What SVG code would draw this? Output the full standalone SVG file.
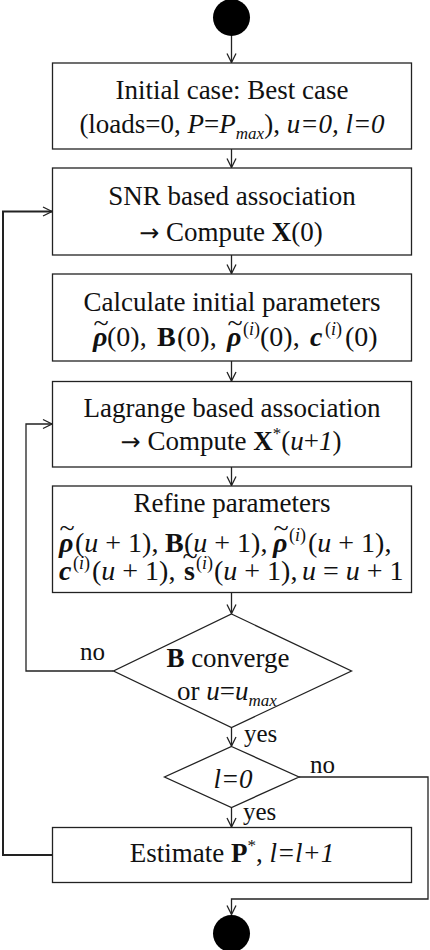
<svg xmlns="http://www.w3.org/2000/svg" width="430" height="950" viewBox="0 0 430 950">
<style>
.box{fill:#fff;stroke:#222;stroke-width:1.3}
.t{font-family:"Liberation Serif","Times New Roman",serif;font-size:27px;fill:#111;text-anchor:middle}
.m{font-family:"Liberation Serif","Times New Roman",serif;font-size:28px;fill:#111}
.lbl{font-family:"Liberation Serif","Times New Roman",serif;font-size:25px;fill:#111}
.ar{font-family:"DejaVu Sans",sans-serif;font-size:24px}
.sup{font-size:18px}
.i{font-style:italic}
.b{font-weight:bold}
.bi{font-weight:bold;font-style:italic}
.conn{fill:none;stroke:#222;stroke-width:1.3}
.thick{fill:none;stroke:#222;stroke-width:2}
</style>
<defs>
<marker id="arr" markerUnits="userSpaceOnUse" markerWidth="12" markerHeight="12" viewBox="-10 -6 11 12" refX="0" refY="0" orient="auto">
<path d="M-9,-4.5 L0,0 L-9,4.5" fill="none" stroke="#222" stroke-width="1.3"/>
</marker>
</defs>
<rect width="430" height="950" fill="#fff"/>

<g id="connectors">
<path class="conn" d="M231.5,36 V62.5" marker-end="url(#arr)"/>
<path class="conn" d="M231.5,149 V167.5" marker-end="url(#arr)"/>
<path class="conn" d="M231.5,255 V273.5" marker-end="url(#arr)"/>
<path class="conn" d="M231.5,361 V381" marker-end="url(#arr)"/>
<path class="conn" d="M231.5,467 V485.5" marker-end="url(#arr)"/>
<path class="conn" d="M231.5,592.5 V613.5" marker-end="url(#arr)"/>
<path class="conn" d="M231.5,727.5 V746" marker-end="url(#arr)"/>
<path class="conn" d="M231.5,807.5 V827" marker-end="url(#arr)"/>
<path class="conn" d="M299,777 H428 V899 H231.5 V914.5" marker-end="url(#arr)"/>
<path class="conn" d="M113.5,671 H26 V424 H52" marker-end="url(#arr)"/>
<path class="thick" d="M52.5,855 H3 V211.5 H52" marker-end="url(#arr)"/>
</g>

<g id="start">
<circle cx="231.5" cy="17.5" r="18.5" fill="#000"/>
</g>

<g id="init">
<rect class="box" x="52.5" y="63" width="359" height="86"/>
<text class="t" x="232" y="99">Initial case: Best case</text>
<text class="t" x="232" y="133">(loads=0, <tspan class="i">P</tspan>=<tspan class="i">P</tspan><tspan class="i" font-size="17" dy="6">max</tspan><tspan dy="-6">), </tspan><tspan class="i">u=0, l=0</tspan></text>
</g>

<g id="snr">
<rect class="box" x="52.5" y="168" width="359" height="87"/>
<text class="t" x="232" y="205">SNR based association</text>
<text class="t" x="231" y="240.5"><tspan class="ar">→</tspan> Compute <tspan class="b">X</tspan>(0)</text>
</g>

<g id="calc">
<rect class="box" x="52.5" y="274" width="359" height="87"/>
<text class="t" x="232" y="310.5">Calculate initial parameters</text>
<text class="m" y="346"><tspan class="bi" x="93">ρ</tspan><tspan x="93.5" dy="-14">~</tspan><tspan x="107" dy="14">(0),</tspan><tspan class="b" x="157">B</tspan><tspan x="177">(0),</tspan><tspan class="bi" x="227">ρ</tspan><tspan x="227.5" dy="-14">~</tspan><tspan class="sup" x="243" dy="3">(<tspan class="i">i</tspan>)</tspan><tspan x="260" dy="11">(0),</tspan><tspan class="bi" x="310">c</tspan><tspan class="sup" x="325" dy="-11">(<tspan class="i">i</tspan>)</tspan><tspan x="345" dy="11">(0)</tspan></text>
</g>

<g id="lagrange">
<rect class="box" x="52.5" y="381.5" width="359" height="85.5"/>
<text class="t" x="232" y="417">Lagrange based association</text>
<text class="t" x="231" y="450"><tspan class="ar">→</tspan> Compute <tspan class="b">X</tspan><tspan font-size="17" dy="-11">*</tspan><tspan dy="11">(</tspan><tspan class="i">u</tspan>+<tspan class="i">1</tspan>)</text>
</g>

<g id="refine">
<rect class="box" x="52.5" y="486" width="359" height="106.5"/>
<text class="t" x="232" y="512">Refine parameters</text>
<text class="m" y="552"><tspan class="bi" x="59">ρ</tspan><tspan x="59.5" dy="-15">~</tspan><tspan x="75" dy="15">(<tspan class="i">u</tspan> + 1),</tspan><tspan class="b" x="165">B</tspan><tspan x="184">(<tspan class="i">u</tspan> + 1),</tspan><tspan class="bi" x="273">ρ</tspan><tspan x="273.5" dy="-15">~</tspan><tspan class="sup" x="289" dy="4">(<tspan class="i">i</tspan>)</tspan><tspan x="308" dy="11">(<tspan class="i">u</tspan> + 1),</tspan></text>
<text class="m" y="580"><tspan class="bi" x="59">c</tspan><tspan class="sup" x="73" dy="-11">(<tspan class="i">i</tspan>)</tspan><tspan x="92" dy="11">(<tspan class="i">u</tspan> + 1),</tspan><tspan class="b" x="184">s</tspan><tspan x="182.5" dy="-15">~</tspan><tspan class="sup" x="196" dy="4">(<tspan class="i">i</tspan>)</tspan><tspan x="214" dy="11">(<tspan class="i">u</tspan> + 1),</tspan><tspan x="302"><tspan class="i">u</tspan> = <tspan class="i">u</tspan> + 1</tspan></text>
</g>

<g id="converge">
<polygon class="box" points="231.5,614 351.5,671 231.5,727.5 113.5,671"/>
<text class="t" x="228" y="667"><tspan class="b">B</tspan> converge</text>
<text class="t" x="227" y="700">or <tspan class="i">u</tspan>=<tspan class="i">u</tspan><tspan class="i" font-size="17" dy="6">max</tspan></text>
</g>

<g id="lcheck">
<polygon class="box" points="231.5,746.5 299,777 231.5,807.5 164.5,777"/>
<text class="t i" x="233" y="788">l=0</text>
</g>

<g id="estimate">
<rect class="box" x="52.5" y="827.5" width="359" height="55"/>
<text class="t" x="232" y="862">Estimate <tspan class="b">P</tspan><tspan font-size="17" dy="-11">*</tspan><tspan dy="11">, </tspan><tspan class="i">l=l+1</tspan></text>
</g>

<g id="end">
<circle cx="231.5" cy="933.5" r="18.5" fill="#000"/>
</g>

<g id="labels">
<text class="lbl" x="80" y="660">no</text>
<text class="lbl" x="244" y="742">yes</text>
<text class="lbl" x="310" y="773">no</text>
<text class="lbl" x="243" y="820">yes</text>
</g>
</svg>
